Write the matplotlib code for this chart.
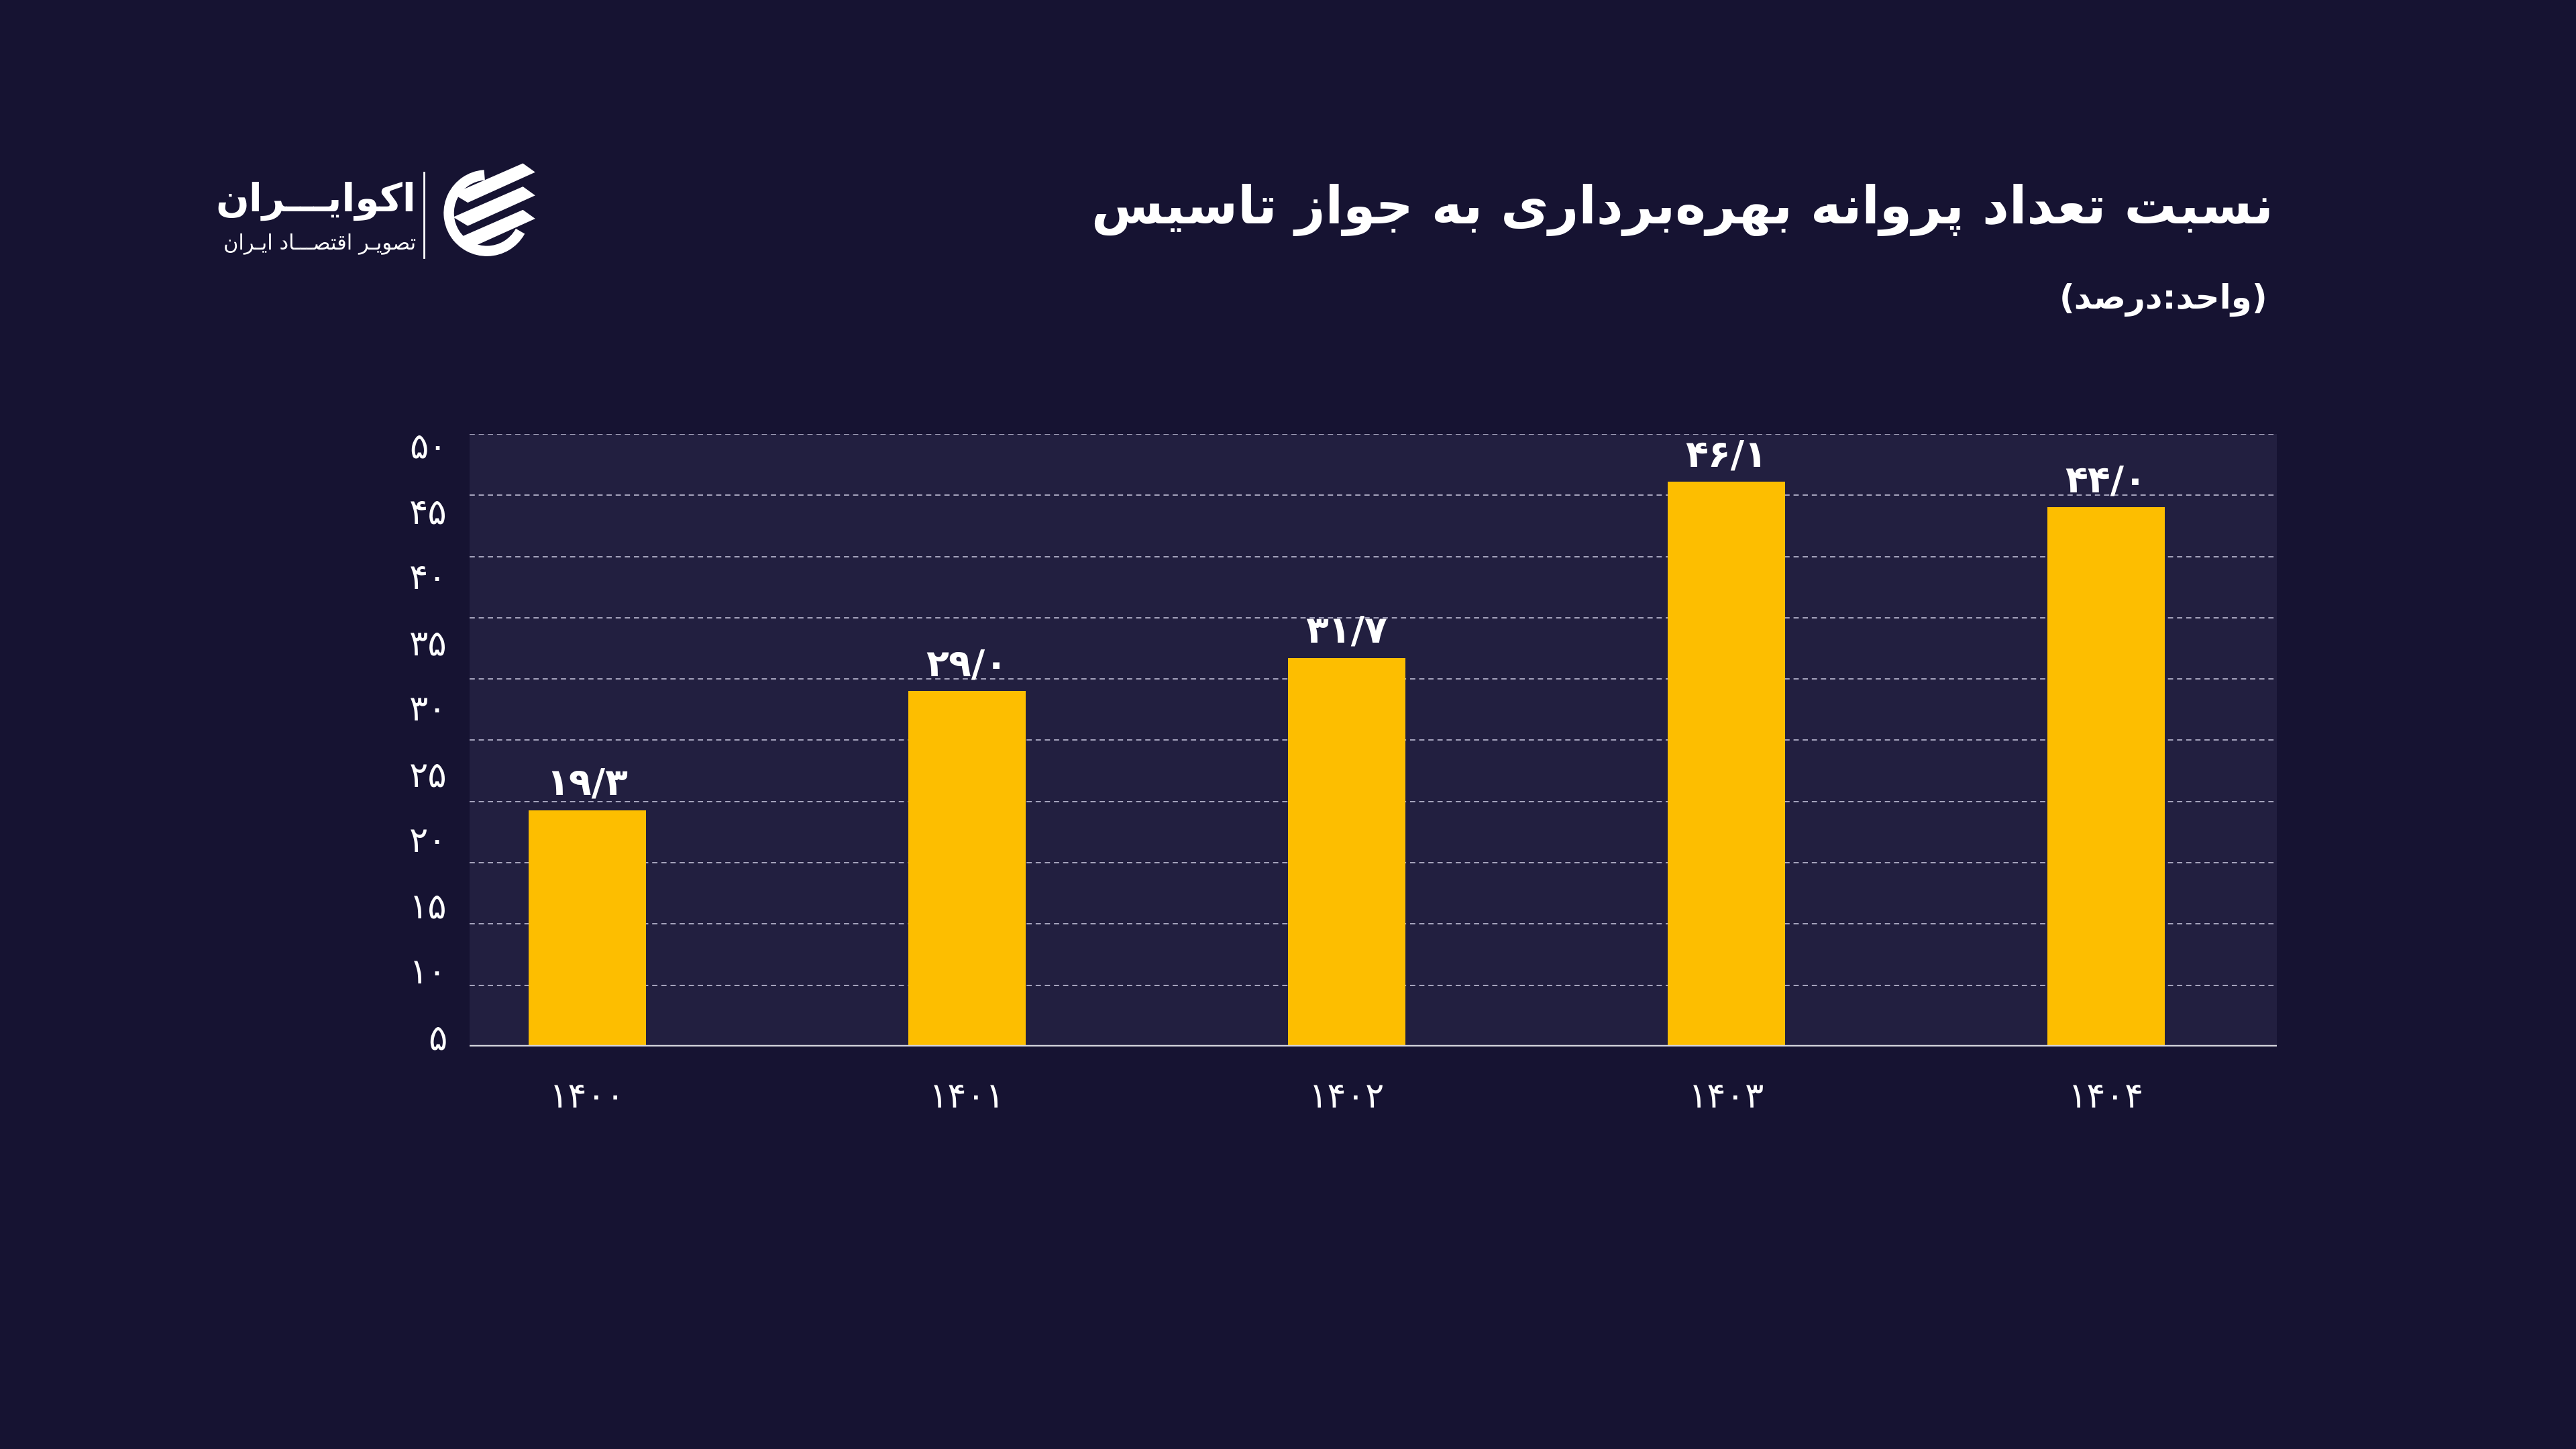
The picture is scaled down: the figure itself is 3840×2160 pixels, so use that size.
import numpy as np
import matplotlib
matplotlib.use("Agg")
import matplotlib.pyplot as plt
from matplotlib.patches import Wedge, Polygon

# داده‌ها
years = ["1400", "1401", "1402", "1403", "1404"]
values = [19.3, 29.0, 31.7, 46.1, 44.0]
value_labels = ["19/3", "29/0", "31/7", "46/1", "44/0"]
ytick_labels = ["50", "45", "40", "35", "30", "25", "20", "15", "10", "5"]

title = "نسبت تعداد پروانه بهره\u200cبرداری به جواز تاسیس"
unit = "(واحد:درصد)"
logo_name = "اکوایـــران"
logo_sub = "تصویـر اقتصـــاد ایـران"

BG = "#161332"
PLOT_BG = "#221F40"
BAR = "#FDBE00"

plt.rcParams["font.family"] = ["DejaVu Sans"]

# جدول شکل حروف: (تنها، پایانی، آغازی، میانی)
FORMS = {
    "ا": ("\uFE8D", "\uFE8E", None, None),
    "ب": ("\uFE8F", "\uFE90", "\uFE91", "\uFE92"),
    "ت": ("\uFE95", "\uFE96", "\uFE97", "\uFE98"),
    "ج": ("\uFE9D", "\uFE9E", "\uFE9F", "\uFEA0"),
    "ح": ("\uFEA1", "\uFEA2", "\uFEA3", "\uFEA4"),
    "د": ("\uFEA9", "\uFEAA", None, None),
    "ر": ("\uFEAD", "\uFEAE", None, None),
    "ز": ("\uFEAF", "\uFEB0", None, None),
    "س": ("\uFEB1", "\uFEB2", "\uFEB3", "\uFEB4"),
    "ص": ("\uFEB9", "\uFEBA", "\uFEBB", "\uFEBC"),
    "ع": ("\uFEC9", "\uFECA", "\uFECB", "\uFECC"),
    "ق": ("\uFED5", "\uFED6", "\uFED7", "\uFED8"),
    "ن": ("\uFEE5", "\uFEE6", "\uFEE7", "\uFEE8"),
    "ه": ("\uFEE9", "\uFEEA", "\uFEEB", "\uFEEC"),
    "و": ("\uFEED", "\uFEEE", None, None),
    "پ": ("\uFB56", "\uFB57", "\uFB58", "\uFB59"),
    "ک": ("\uFB8E", "\uFB8F", "\uFB90", "\uFB91"),
    "ی": ("\uFBFC", "\uFBFD", "\uFBFE", "\uFBFF"),
    "ـ": ("ـ", "ـ", "ـ", "ـ"),
}


def fa(text):
    # شکل‌دهی ساده حروف فارسی و برگرداندن ترتیب برای نمایش چپ‌به‌راست
    chars = list(text)
    out = []
    for i, c in enumerate(chars):
        if c not in FORMS:
            out.append(c)
            continue
        prev = chars[i - 1] if i > 0 else None
        nxt = chars[i + 1] if i + 1 < len(chars) else None
        jp = prev in FORMS and FORMS[prev][2] is not None
        jn = FORMS[c][2] is not None and nxt in FORMS
        f = FORMS[c]
        if jp and jn:
            out.append(f[3])
        elif jp:
            out.append(f[1])
        elif jn:
            out.append(f[2])
        else:
            out.append(f[0])
    s = "".join(out).replace("\u200c", "")[::-1]
    return s.translate(str.maketrans("()", ")("))


def fa_num(s):
    return s.translate(str.maketrans("0123456789", "۰۱۲۳۴۵۶۷۸۹"))


fig = plt.figure(figsize=(19.2, 10.8), dpi=200, facecolor=BG)
ax = fig.add_axes([0.1823, 0.2778, 0.7016, 0.4227])
ax.set_facecolor(PLOT_BG)

x = np.arange(len(years))
ax.bar(x, values, width=0.31, color=BAR, zorder=3)
ax.set_xlim(-0.31, 4.45)
ax.set_ylim(0, 50)

for g in range(5, 55, 5):
    ax.axhline(g, color="#A9A7C0", lw=0.7, ls=(0, (4, 3)), zorder=1)
ax.axhline(0, color="#D8D8E0", lw=1.6, zorder=4)

for xi, v, lab in zip(x, values, value_labels):
    ax.annotate(fa_num(lab), (xi, v), xytext=(0, 4), textcoords="offset points",
                ha="center", va="bottom", color="white", fontsize=20, fontweight="bold")

ax.set_xticks(x)
ax.set_xticklabels([fa_num(y) for y in years], color="white", fontsize=19)
ax.set_yticks(np.linspace(49.2, 0.9, len(ytick_labels)))
ax.set_yticklabels([fa_num(t) for t in ytick_labels], color="white", fontsize=19)
ax.tick_params(axis="x", length=0, pad=18)
ax.tick_params(axis="y", length=0, pad=12)
for s in ax.spines.values():
    s.set_visible(False)

# عنوان
fig.text(0.8826, 0.855, fa(title), ha="right", va="center", color="white",
         fontsize=28, fontweight="bold")
fig.text(0.8802, 0.793, fa(unit), ha="right", va="center", color="white",
         fontsize=18, fontweight="bold")

# لوگو
fig.text(0.1615, 0.861, fa(logo_name), ha="right", va="center", color="white",
         fontsize=21, fontweight="bold")
fig.text(0.1615, 0.832, fa(logo_sub), ha="right", va="center", color="white",
         fontsize=11)
fig.add_artist(plt.Line2D([0.1646, 0.1646], [0.822, 0.881], color="white", lw=1.0))

lax = fig.add_axes([0.169, 0.818, 0.04, 0.07])
lax.set_xlim(-1.2, 1.2)
lax.set_ylim(-1.2, 1.2)
lax.set_aspect("equal")
lax.axis("off")
lax.add_patch(Wedge((0, 0), 1.0, 95, 330, width=0.2, color="white"))
for dy in [0.55, 0.0, -0.55]:
    lax.add_patch(Polygon([[-0.75, dy - 0.1], [-0.45, dy - 0.28], [1.1, dy + 0.42],
                           [0.85, dy + 0.6]], closed=True, color="white"))

fig.savefig("out.png", dpi=200, facecolor=BG)
